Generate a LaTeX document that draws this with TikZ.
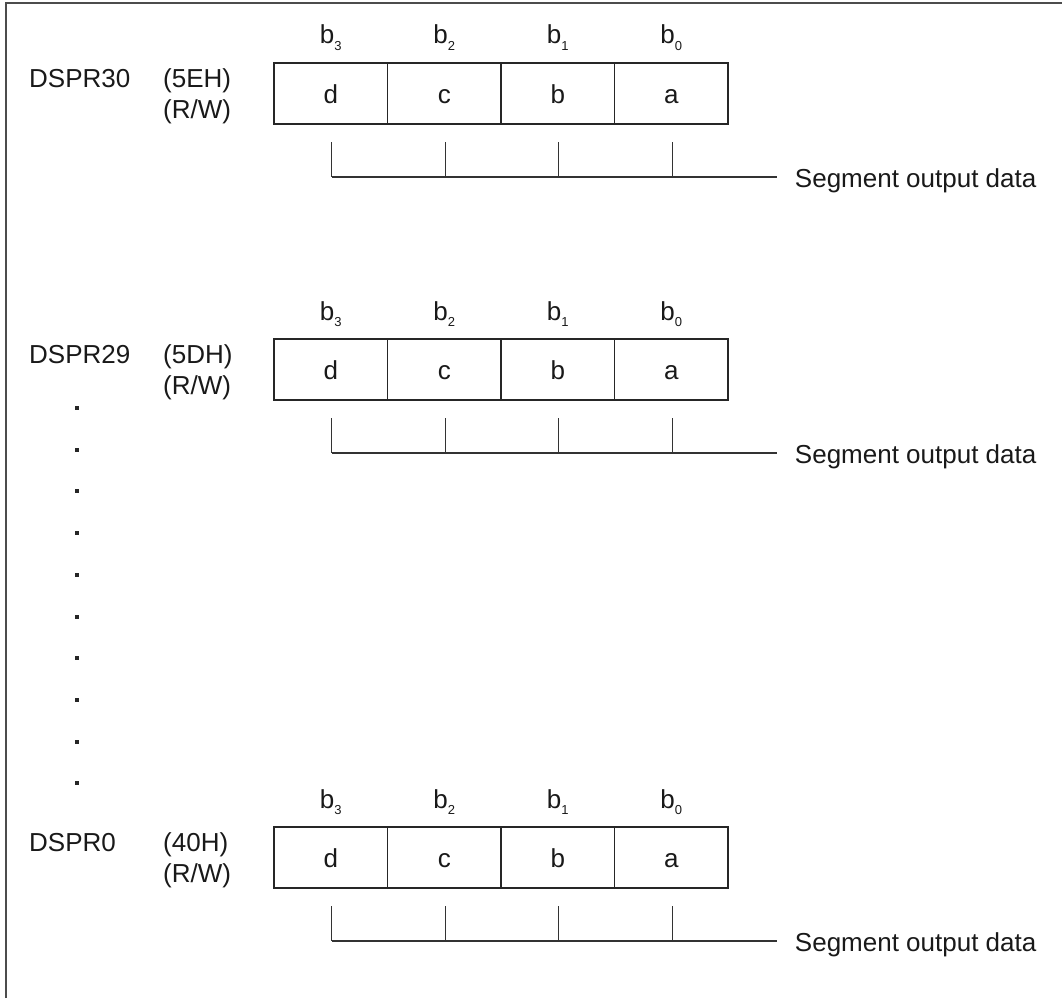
\documentclass[tikz,border=0pt]{standalone}
\usepackage{fontspec}
\setmainfont{Liberation Sans}
\usetikzlibrary{calc}
\tikzset{
  frameline/.style={line width=2pt, black!70},
  cell/.style={draw=black!85, line width=1.3pt, minimum width=113.5pt, minimum height=61pt,
    inner sep=0pt, outer sep=0pt, text height=19pt, text depth=0pt, anchor=north west},
  txt/.style={inner sep=0pt, anchor=base west, text=black!90},
  bitlbl/.style={inner sep=0pt, anchor=base, text=black!90},
  tick/.style={line width=1.2pt, black!80}
}
\newcommand{\bitno}[1]{b\raisebox{-0.45ex}{\fontsize{13}{13}\selectfont #1}}

\begin{document}
\begin{tikzpicture}[x=1pt, y=-1pt, font=\fontsize{26}{30}\selectfont]
\useasboundingbox (0,0) rectangle (1062,998);
\draw[frameline] (6,998) -- (6,3) -- (1062,3);
\foreach \reg/\addr/\top in {30/5EH/63, 29/5DH/339, 0/40H/827} {
  \node[cell, text=black!90] (d\reg) at (274,\top) {d};
  \node[cell, text=black!90] (c\reg) at (d\reg.north east) {c};
  \node[cell, text=black!90] (b\reg) at (c\reg.north east) {b};
  \node[cell, text=black!90] (a\reg) at (b\reg.north east) {a};
  \node[bitlbl] (bt3\reg) at ($(d\reg.north)+(0,-19)$) {\bitno{3}};
  \node[bitlbl] (bt2\reg) at ($(c\reg.north)+(0,-19)$) {\bitno{2}};
  \node[bitlbl] (bt1\reg) at ($(b\reg.north)+(0,-19)$) {\bitno{1}};
  \node[bitlbl] (bt0\reg) at ($(a\reg.north)+(0,-19)$) {\bitno{0}};
  \node[txt] (reg\reg) at (29,\top+24) {DSPR\reg};
  \node[txt] (addr\reg) at (163,\top+24) {(\addr)};
  \node[txt] (rw\reg) at (163,\top+55) {(R/W)};
  \foreach \c in {d,c,b,a}
    \draw[tick] ($(\c\reg.south)+(1,18)$) -- ($(\c\reg.south)+(1,53)$);
  \coordinate (tk\reg) at ($(d\reg.south)+(1,53)$);
  \coordinate (end\reg) at ($(tk\reg)+(445,0)$);
  \node[txt] (seg\reg) at ($(end\reg)+(18,10)$) {Segment output data};
  \draw[tick] (tk\reg) -- (end\reg);
}
\foreach \i in {0,...,9}
  \fill[black!85] (75,{406+41.7*\i}) rectangle ++(4,4);
\end{tikzpicture}
\end{document}
